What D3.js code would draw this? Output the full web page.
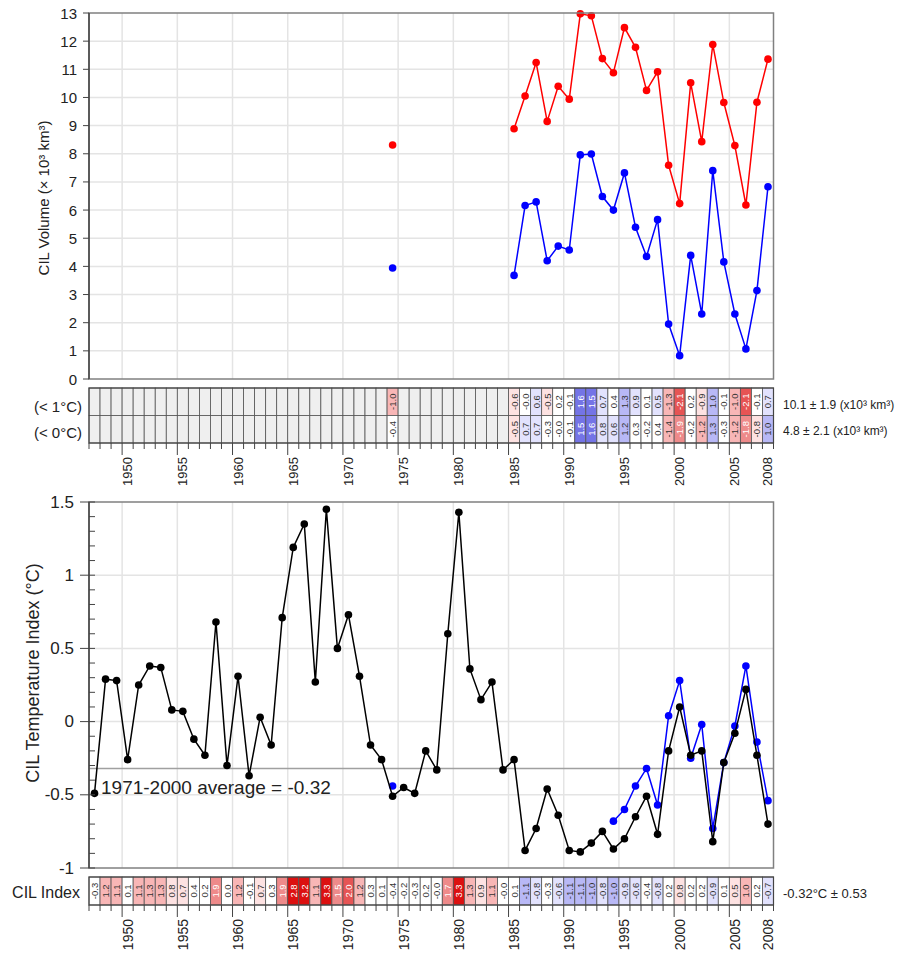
<!DOCTYPE html>
<html>
<head>
<meta charset="utf-8">
<script src="https://cdn.jsdelivr.net/npm/d3@7"></script>
<style>
body { margin: 0; background: #fff; }
svg { display: block; }
text { font-family: "Liberation Sans", Arial, sans-serif; }
</style>
</head>
<body>
<div id="chart"></div>
<script>
// CIL volume (x10^3 km^3), years with data
var volYears = [1974, 1985, 1986, 1987, 1988, 1989, 1990, 1991, 1992, 1993, 1994, 1995, 1996,
                1997, 1998, 1999, 2000, 2001, 2002, 2003, 2004, 2005, 2006, 2007, 2008];
var volBelow1 = [8.31, 8.89, 10.05, 11.24, 9.15, 10.40, 9.94, 12.97, 12.90, 11.38, 10.88, 12.48, 11.78,
                 10.25, 10.91, 7.59, 6.23, 10.52, 8.43, 11.88, 9.82, 8.29, 6.18, 9.83, 11.36];
var volBelow0 = [3.94, 3.68, 6.16, 6.29, 4.20, 4.72, 4.58, 7.96, 7.99, 6.48, 6.00, 7.32, 5.39,
                 4.35, 5.66, 1.95, 0.83, 4.39, 2.31, 7.40, 4.16, 2.31, 1.07, 3.14, 6.83];
// standardized anomalies shown in the scorecard
var anomBelow1 = [-1.0, -0.6, -0.0, 0.6, -0.5, 0.2, -0.1, 1.6, 1.5, 0.7, 0.4, 1.3, 0.9,
                  0.1, 0.5, -1.3, -2.1, 0.2, -0.9, 1.0, -0.1, -1.0, -2.1, -0.1, 0.7];
var anomBelow0 = [-0.4, -0.5, 0.7, 0.7, -0.3, -0.0, -0.1, 1.5, 1.6, 0.8, 0.6, 1.2, 0.3,
                  -0.2, 0.4, -1.4, -1.9, -0.2, -1.2, 1.3, -0.3, -1.2, -1.8, -0.8, 1.0];

// CIL temperature index (deg C)
var cilYears = [1947, 1948, 1949, 1950, 1951, 1952, 1953, 1954, 1955, 1956, 1957, 1958, 1959,
                1960, 1961, 1962, 1963, 1964, 1965, 1966, 1967, 1968, 1969, 1970, 1971, 1972,
                1973, 1974, 1975, 1976, 1977, 1978, 1979, 1980, 1981, 1982, 1983, 1984, 1985,
                1986, 1987, 1988, 1989, 1990, 1991, 1992, 1993, 1994, 1995, 1996, 1997, 1998,
                1999, 2000, 2001, 2002, 2003, 2004, 2005, 2006, 2007, 2008];
var cilTemp = [-0.49, 0.29, 0.28, -0.26, 0.25, 0.38, 0.37, 0.08, 0.07, -0.12, -0.23, 0.68, -0.30,
               0.31, -0.37, 0.03, -0.16, 0.71, 1.19, 1.35, 0.27, 1.45, 0.50, 0.73, 0.31, -0.16,
               -0.26, -0.51, -0.45, -0.49, -0.20, -0.33, 0.60, 1.43, 0.36, 0.15, 0.27, -0.33, -0.26,
               -0.88, -0.73, -0.46, -0.64, -0.88, -0.89, -0.83, -0.75, -0.87, -0.80, -0.65, -0.51, -0.77,
               -0.20, 0.10, -0.23, -0.20, -0.82, -0.28, -0.08, 0.22, -0.23, -0.70];
var cilIndex = [-0.3, 1.2, 1.1, 0.1, 1.1, 1.3, 1.3, 0.8, 0.7, 0.4, 0.2, 1.9, 0.0,
                1.2, -0.1, 0.7, 0.3, 1.9, 2.8, 3.2, 1.1, 3.3, 1.5, 2.0, 1.2, 0.3,
                0.1, -0.4, -0.2, -0.3, 0.2, -0.0, 1.7, 3.3, 1.3, 0.9, 1.1, -0.0, 0.1,
                -1.1, -0.8, -0.3, -0.6, -1.1, -1.1, -1.0, -0.8, -1.0, -0.9, -0.6, -0.4, -0.8,
                0.2, 0.8, 0.2, 0.2, -0.9, 0.1, 0.5, 1.0, 0.2, -0.7];
var cilAltYears = [1974, 1994, 1995, 1996, 1997, 1998, 1999, 2000, 2001, 2002, 2003, 2004, 2005, 2006, 2007, 2008];
var cilAlt = [-0.44, -0.68, -0.60, -0.44, -0.32, -0.57, 0.04, 0.28, -0.25, -0.02, -0.73, -0.28, -0.03, 0.38, -0.14, -0.54];
var cilMean = -0.32;

// tick labels
var yearLabels = [1950, 1955, 1960, 1965, 1970, 1975, 1980, 1985, 1990, 1995, 2000, 2005, 2008];
var volTicks = [0, 1, 2, 3, 4, 5, 6, 7, 8, 9, 10, 11, 12, 13];
var tempTicks = [-1, -0.5, 0, 0.5, 1, 1.5];

var width = 906, height = 955;
var svg = d3.select('#chart').append('svg')
    .attr('width', width)
    .attr('height', height);

var x = d3.scaleLinear().domain([1947, 2009]).range([89, 773.5]);
var yVol = d3.scaleLinear().domain([0, 13]).range([379, 13]);
var yTemp = d3.scaleLinear().domain([-1, 1.5]).range([868, 502]);

var gridCol = '#e4e4e4';
var frameCol = '#808080';

function fmt(v) {
    var neg = v < 0 || Object.is(v, -0);
    return (neg ? '-' : '') + Math.abs(v).toFixed(1);
}

// cell colours: warm = red, cold = blue
var redCols = ['#ffffff', '#fde2e2', '#f8b6b6', '#ee8a8a', '#e65454', '#dc1010'];
var blueCols = ['#ffffff', '#e2e2fd', '#b8b8f6', '#7474e6', '#5050e0', '#1010dd'];
var steps = [0.5, 1, 1.5, 2, 2.5];
var redScale = d3.scaleThreshold().domain(steps).range(redCols);
var blueScale = d3.scaleThreshold().domain(steps).range(blueCols);

function cellColor(v, warmSign) {
    var w = v * warmSign;
    return w > 0 ? redScale(Math.abs(v)) : blueScale(Math.abs(v));
}

// split into runs of consecutive years
function runs(years, vals) {
    var out = [], cur = [];
    years.forEach(function(yr, i) {
        if (cur.length && yr !== cur[cur.length - 1].yr + 1) { out.push(cur); cur = []; }
        cur.push({yr: yr, v: vals[i]});
    });
    if (cur.length) out.push(cur);
    return out;
}

function drawSeries(g, years, vals, yScale, color) {
    var line = d3.line()
        .x(function(d) { return x(d.yr + 0.5); })
        .y(function(d) { return yScale(d.v); });
    g.append('g').selectAll('path')
        .data(runs(years, vals).filter(function(r) { return r.length > 1; }))
        .enter()
        .append('path')
        .attr('d', line)
        .attr('fill', 'none')
        .attr('stroke', color)
        .attr('stroke-width', 1.5);
    g.append('g').selectAll('circle')
        .data(years.map(function(yr, i) { return {yr: yr, v: vals[i]}; }))
        .enter()
        .append('circle')
        .attr('cx', function(d) { return x(d.yr + 0.5); })
        .attr('cy', function(d) { return yScale(d.v); })
        .attr('r', 3.8)
        .attr('fill', color);
}

function drawFrame(g, yScale, hTicks) {
    var y0 = yScale.range()[0], y1 = yScale.range()[1];
    g.append('g').selectAll('line')
        .data(yearLabels.filter(function(d) { return d % 5 === 0; }))
        .enter()
        .append('line')
        .attr('x1', function(d) { return x(d); })
        .attr('x2', function(d) { return x(d); })
        .attr('y1', y0).attr('y2', y1)
        .attr('stroke', gridCol).attr('stroke-width', 1.5);
    g.append('g').selectAll('line')
        .data(hTicks.slice(1, -1))
        .enter()
        .append('line')
        .attr('x1', x.range()[0]).attr('x2', x.range()[1])
        .attr('y1', function(d) { return yScale(d); })
        .attr('y2', function(d) { return yScale(d); })
        .attr('stroke', gridCol).attr('stroke-width', 1.5);
}

function drawBorder(g, yScale) {
    var y0 = yScale.range()[0], y1 = yScale.range()[1];
    g.append('rect')
        .attr('x', x.range()[0]).attr('y', y1)
        .attr('width', x.range()[1] - x.range()[0])
        .attr('height', y0 - y1)
        .attr('fill', 'none')
        .attr('stroke', frameCol)
        .attr('stroke-width', 1.5);
    g.append('line')
        .attr('x1', x.range()[0]).attr('x2', x.range()[0])
        .attr('y1', y1).attr('y2', y0)
        .attr('stroke', '#444').attr('stroke-width', 1.5);
}

// scorecard row
function drawRow(g, yTop, h, years, vals, warmSign) {
    var byYear = {};
    years.forEach(function(yr, i) { byYear[yr] = vals[i]; });
    var cells = cilYears.map(function(yr) { return {yr: yr, v: byYear[yr]}; });
    g.append('g').selectAll('rect')
        .data(cells)
        .enter()
        .append('rect')
        .attr('x', function(d) { return x(d.yr); })
        .attr('y', yTop)
        .attr('width', function(d) { return x(d.yr + 1) - x(d.yr); })
        .attr('height', h)
        .attr('fill', function(d) { return d.v === undefined ? '#efefef' : cellColor(d.v, warmSign); })
        .attr('stroke', '#555')
        .attr('stroke-width', 0.8);
    g.append('g').selectAll('text')
        .data(cells.filter(function(d) { return d.v !== undefined; }))
        .enter()
        .append('text')
        .attr('transform', function(d) {
            return 'translate(' + x(d.yr + 0.5) + ',' + (yTop + h / 2) + ') rotate(-90)';
        })
        .attr('text-anchor', 'middle')
        .attr('dominant-baseline', 'central')
        .style('font-size', '9.5px')
        .style('fill', function(d) { return Math.abs(d.v) >= 1.5 ? '#ffffff' : '#333'; })
        .text(function(d) { return fmt(d.v); });
}

function drawYearAxis(g, yBase, labelY, fontSize) {
    var bounds = cilYears.concat([2009]);
    g.append('g').selectAll('line')
        .data(bounds)
        .enter()
        .append('line')
        .attr('x1', function(d) { return x(d); })
        .attr('x2', function(d) { return x(d); })
        .attr('y1', yBase)
        .attr('y2', function(d) { return yBase + (d % 5 === 0 ? 12 : 6); })
        .attr('stroke', '#444')
        .attr('stroke-width', 1);
    g.append('g').selectAll('text')
        .data(yearLabels)
        .enter()
        .append('text')
        .attr('transform', function(d) {
            return 'translate(' + x(d + 0.5) + ',' + labelY + ') rotate(-90)';
        })
        .attr('text-anchor', 'end')
        .attr('dominant-baseline', 'central')
        .style('font-size', fontSize + 'px')
        .style('fill', '#222')
        .text(function(d) { return d; });
}

// ---------- top: CIL volume ----------
var volG = svg.append('g');
drawFrame(volG, yVol, volTicks);
drawSeries(volG, volYears, volBelow1, yVol, '#ff0000');
drawSeries(volG, volYears, volBelow0, yVol, '#0000ff');
drawBorder(volG, yVol);

volG.append('g').selectAll('line')
    .data(volTicks)
    .enter()
    .append('line')
    .attr('x1', 83).attr('x2', 89)
    .attr('y1', function(d) { return yVol(d); })
    .attr('y2', function(d) { return yVol(d); })
    .attr('stroke', '#444');
volG.append('g').selectAll('text')
    .data(volTicks)
    .enter()
    .append('text')
    .attr('x', 77)
    .attr('y', function(d) { return yVol(d); })
    .attr('text-anchor', 'end')
    .attr('dominant-baseline', 'central')
    .style('font-size', '15px')
    .style('fill', '#222')
    .text(function(d) { return d; });
volG.append('text')
    .attr('transform', 'translate(43,198) rotate(-90)')
    .attr('text-anchor', 'middle')
    .attr('dominant-baseline', 'central')
    .style('font-size', '15px')
    .style('fill', '#222')
    .text('CIL Volume (\u00d7 10\u00b3 km\u00b3)');

// volume scorecard
var card1 = svg.append('g');
drawRow(card1, 388, 27.5, volYears, anomBelow1, -1);
drawRow(card1, 415.5, 27.5, volYears, anomBelow0, -1);
card1.append('rect')
    .attr('x', x.range()[0]).attr('y', 388)
    .attr('width', x.range()[1] - x.range()[0]).attr('height', 55)
    .attr('fill', 'none').attr('stroke', '#444').attr('stroke-width', 1.2);
drawYearAxis(card1, 443, 457, 13);
card1.append('text').attr('x', 82).attr('y', 406).attr('text-anchor', 'end')
    .attr('dominant-baseline', 'central').style('font-size', '15px').style('fill', '#222')
    .text('(< 1\u00b0C)');
card1.append('text').attr('x', 82).attr('y', 432).attr('text-anchor', 'end')
    .attr('dominant-baseline', 'central').style('font-size', '15px').style('fill', '#222')
    .text('(< 0\u00b0C)');
card1.append('text').attr('x', 783).attr('y', 405)
    .attr('dominant-baseline', 'central').style('font-size', '12px').style('fill', '#222')
    .text('10.1 \u00b1 1.9 (x10\u00b3 km\u00b3)');
card1.append('text').attr('x', 783).attr('y', 431)
    .attr('dominant-baseline', 'central').style('font-size', '12px').style('fill', '#222')
    .text('4.8 \u00b1 2.1 (x10\u00b3 km\u00b3)');

// ---------- bottom: CIL temperature index ----------
var tempG = svg.append('g');
drawFrame(tempG, yTemp, tempTicks);
tempG.append('line')
    .attr('x1', x.range()[0]).attr('x2', x.range()[1])
    .attr('y1', yTemp(cilMean)).attr('y2', yTemp(cilMean))
    .attr('stroke', '#a0a0a0').attr('stroke-width', 1.5);
drawSeries(tempG, cilAltYears, cilAlt, yTemp, '#0000ff');
drawSeries(tempG, cilYears, cilTemp, yTemp, '#000000');
drawBorder(tempG, yTemp);

var minorTicks = d3.range(-10, 16).map(function(d) { return d / 10; });
tempG.append('g').selectAll('line')
    .data(minorTicks)
    .enter()
    .append('line')
    .attr('x1', 89).attr('x2', 95)
    .attr('y1', function(d) { return yTemp(d); })
    .attr('y2', function(d) { return yTemp(d); })
    .attr('stroke', '#444');
tempG.append('g').selectAll('line')
    .data(tempTicks)
    .enter()
    .append('line')
    .attr('x1', 80).attr('x2', 89)
    .attr('y1', function(d) { return yTemp(d); })
    .attr('y2', function(d) { return yTemp(d); })
    .attr('stroke', '#444');
tempG.append('g').selectAll('text')
    .data(tempTicks)
    .enter()
    .append('text')
    .attr('x', 74)
    .attr('y', function(d) { return yTemp(d); })
    .attr('text-anchor', 'end')
    .attr('dominant-baseline', 'central')
    .style('font-size', '17px')
    .style('fill', '#222')
    .text(function(d) { return d; });
tempG.append('text')
    .attr('transform', 'translate(33,673) rotate(-90)')
    .attr('text-anchor', 'middle')
    .attr('dominant-baseline', 'central')
    .style('font-size', '18px')
    .style('fill', '#222')
    .text('CIL Temperature Index (\u00b0C)');
tempG.append('text')
    .attr('x', 101).attr('y', 794)
    .style('font-size', '19px')
    .style('fill', '#222')
    .text('1971-2000 average = -0.32');

// index scorecard
var card2 = svg.append('g');
drawRow(card2, 877, 28, cilYears, cilIndex, 1);
card2.append('rect')
    .attr('x', x.range()[0]).attr('y', 877)
    .attr('width', x.range()[1] - x.range()[0]).attr('height', 28)
    .attr('fill', 'none').attr('stroke', '#444').attr('stroke-width', 1.2);
drawYearAxis(card2, 905, 919, 14);
card2.append('text').attr('x', 80).attr('y', 892).attr('text-anchor', 'end')
    .attr('dominant-baseline', 'central').style('font-size', '16px').style('fill', '#222')
    .text('CIL Index');
card2.append('text').attr('x', 783).attr('y', 893)
    .attr('dominant-baseline', 'central').style('font-size', '13px').style('fill', '#222')
    .text('-0.32\u00b0C \u00b1 0.53');
</script>
</body>
</html>
